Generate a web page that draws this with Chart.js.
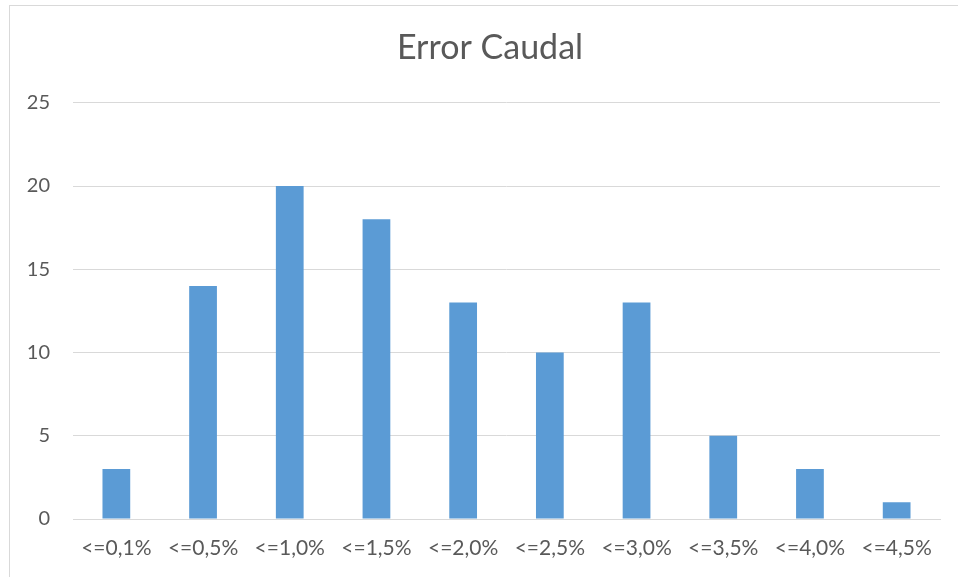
<!DOCTYPE html>
<html>
<head>
<meta charset="utf-8">
<script src="https://cdn.jsdelivr.net/npm/chart.js@4"></script>
<style>
    body { margin: 0; background: #fff; overflow: hidden; }
    .frame {
        position: absolute; left: 9px; top: 5px;
        width: 970px; height: 600px;
        border: 1px solid #d9d9d9;
    }
    #errorChart { position: absolute; left: 0; top: 0; }
</style>
</head>
<body>
<div class="frame"></div>
<canvas id="errorChart" width="958" height="577"></canvas>
<script>
// 数据
const categories = ['<=0,1%', '<=0,5%', '<=1,0%', '<=1,5%', '<=2,0%', '<=2,5%', '<=3,0%', '<=3,5%', '<=4,0%', '<=4,5%'];
const counts = [3, 14, 20, 18, 13, 10, 13, 5, 3, 1];
const yMax = 25;
const yStep = 5;

const textColor = '#595959';
const gridColor = '#d9d9d9';

// 标题向右挪一点，居中在外框上
const shiftTitle = {
    id: 'shiftTitle',
    afterLayout(chart) {
        if (chart.titleBlock) {
            chart.titleBlock.left += 10;
            chart.titleBlock.right += 10;
        }
    }
};

const ctx = document.getElementById('errorChart').getContext('2d');
new Chart(ctx, {
    type: 'bar',
    data: {
        labels: categories,
        datasets: [{
            label: 'Error Caudal',
            data: counts,
            backgroundColor: '#5b9bd5',
            borderWidth: 0,
            barPercentage: 0.32,
            categoryPercentage: 1
        }]
    },
    options: {
        responsive: false,
        animation: false,
        layout: { padding: { left: 20, right: 18, top: 0, bottom: 0 } },
        plugins: {
            legend: { display: false },
            tooltip: { enabled: false },
            title: {
                display: true,
                text: 'Error Caudal',
                color: textColor,
                font: { family: 'Lato', size: 34, weight: 'normal' },
                padding: { top: 28, bottom: 34 }
            }
        },
        scales: {
            x: {
                grid: { display: false, drawTicks: false },
                border: { display: true, color: gridColor, width: 1 },
                ticks: {
                    color: textColor,
                    font: { family: 'Lato', size: 21 },
                    padding: 17,
                    maxRotation: 0,
                    autoSkip: false
                },
                afterFit: (scale) => { scale.height = 58; }
            },
            y: {
                min: 0,
                max: yMax,
                grid: { color: gridColor, lineWidth: 1, drawTicks: false },
                border: { display: false },
                ticks: {
                    stepSize: yStep,
                    color: textColor,
                    font: { family: 'Lato', size: 20 },
                    padding: 23
                },
                afterFit: (scale) => { scale.width = 53; }
            }
        }
    },
    plugins: [shiftTitle]
});
</script>
</body>
</html>
